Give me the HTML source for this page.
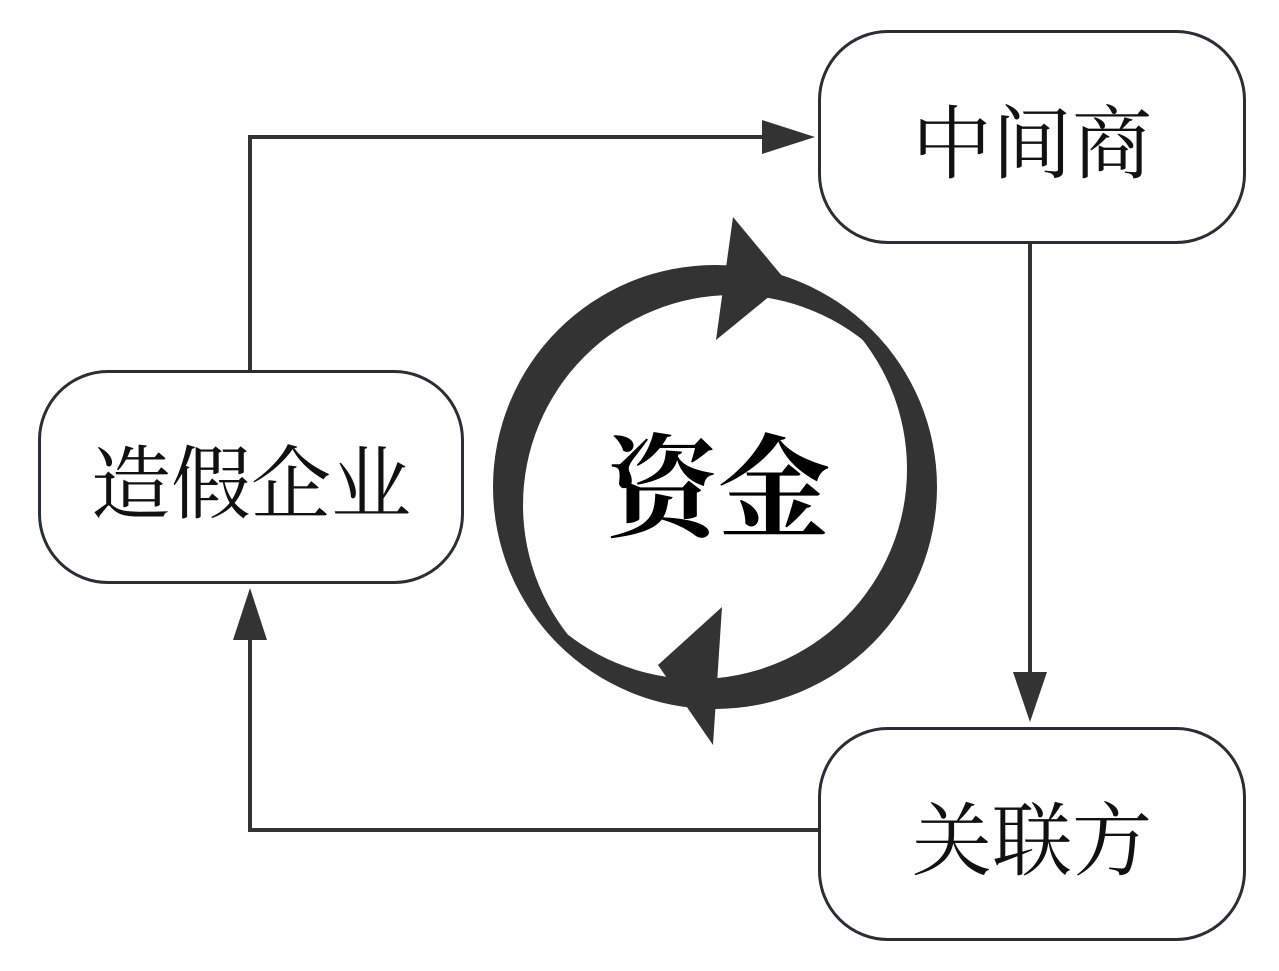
<!DOCTYPE html>
<html><head><meta charset="utf-8"><style>
html,body{margin:0;padding:0;background:#fff}
.box{position:absolute;border:3px solid #2b2f33;border-radius:70px;background:#fff;display:flex;align-items:center;justify-content:center;font-family:"Liberation Serif","Noto Serif CJK SC",serif;font-size:80px;color:#111;box-sizing:border-box}
</style></head><body>
<div style="position:relative;width:1279px;height:971px;overflow:hidden">
<svg width="1279" height="971" style="position:absolute;left:0;top:0">
<defs><clipPath id="c"><circle cx="697" cy="469" r="210"/></clipPath></defs>
<g stroke="#333" stroke-width="4" fill="none">
<polyline points="250,372 250,137 770,137"/>
<polyline points="1030,243 1030,680"/>
<polyline points="820,830 250,830 250,635"/>
</g>
<g fill="#333">
<polygon points="762,120 815,137 762,154"/>
<polygon points="1013,672 1030,722 1047,672"/>
<polygon points="233,640 250,588 267,640"/>
<circle cx="715" cy="487" r="222"/>
<circle cx="733" cy="505" r="210" fill="#fff" clip-path="url(#c)"/>
<polygon points="733,217 787,282 716,340"/>
<polygon points="722,607 658,665 713,745"/>
</g>
<text x="718" y="528" text-anchor="middle" font-family="Liberation Serif,'Noto Serif CJK SC',serif" font-weight="bold" font-size="112" fill="#000">资金</text>
</svg>
<div class="box" style="left:818px;top:30px;width:428px;height:214px">中间商</div>
<div class="box" style="left:38px;top:370px;width:426px;height:214px">造假企业</div>
<div class="box" style="left:818px;top:727px;width:428px;height:214px">关联方</div>
</div>
</body></html>
